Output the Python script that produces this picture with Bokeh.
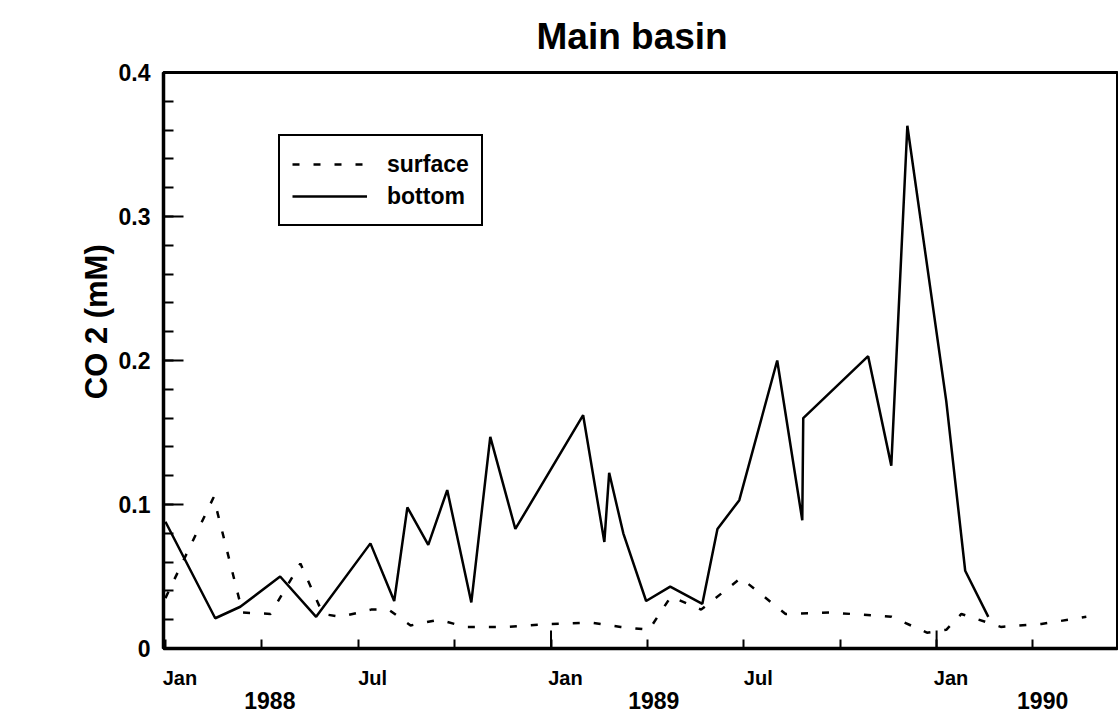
from bokeh.plotting import figure
from bokeh.models import LinearAxis, FixedTicker, Legend, LegendItem, Range1d
from bokeh.embed import file_html
from bokeh.resources import INLINE

FONT = "Liberation Sans"
INK = "black"

# Sampling dates in months elapsed since 1 January 1988, CO2 in mM
surface_month = [0.0, 1.5, 2.4, 3.27, 4.2, 4.9, 5.45, 6.4, 6.95, 7.63, 8.5, 9.35,
                 10.6, 11.9, 13.24, 14.17, 15.05, 15.73, 16.67, 17.91, 19.3, 20.7,
                 22.6, 23.7, 24.3, 24.77, 26.0, 27.26, 28.66]
surface_co2 = [0.035, 0.105, 0.025, 0.024, 0.059, 0.024, 0.022, 0.027, 0.027, 0.016,
               0.020, 0.015, 0.015, 0.017, 0.018, 0.015, 0.013, 0.036, 0.027, 0.049,
               0.024, 0.025, 0.022, 0.011, 0.013, 0.024, 0.015, 0.017, 0.022]

bottom_month = [0.0, 1.55, 2.33, 3.57, 4.69, 6.38, 7.12, 7.53, 8.18, 8.77, 9.52,
                10.11, 10.89, 13.0, 13.66, 13.81, 14.25, 14.96, 15.71, 16.71, 17.18,
                17.86, 19.04, 19.82, 19.85, 21.87, 22.59, 23.09, 24.3, 24.89, 25.61]
bottom_co2 = [0.088, 0.021, 0.029, 0.050, 0.022, 0.073, 0.033, 0.098, 0.072, 0.110,
              0.032, 0.147, 0.083, 0.162, 0.074, 0.122, 0.080, 0.033, 0.043, 0.031,
              0.083, 0.103, 0.200, 0.089, 0.160, 0.203, 0.127, 0.363, 0.172, 0.054,
              0.022]

# Axis annotation
co2_ticks = [0, 0.1, 0.2, 0.3, 0.4]
co2_labels = ["0", "0.1", "0.2", "0.3", "0.4"]
co2_minor = [round(0.02 * k, 2) for k in range(21)]
year_ticks = [0, 12, 24]
quarter_ticks = [3, 6, 9, 15, 18, 21, 27]
month_label_pos = [0.45, 6.45, 12.45, 18.45, 24.45]
month_labels = ["Jan", "Jul", "Jan", "Jul", "Jan"]
year_label_pos = [3.25, 15.2, 27.3]
year_labels = ["1988", "1989", "1990"]

Y_MAX = 0.4
FRAME_H = 576

p = figure(width=1118, height=715, output_backend="svg", toolbar_location=None,
           x_axis_location=None,
           x_range=Range1d(-0.06, 29.63), y_range=Range1d(0, Y_MAX),
           min_border_left=163, min_border_right=1,
           min_border_top=72, min_border_bottom=67)
p.background_fill_color = "white"
p.border_fill_color = "white"
p.outline_line_color = INK
p.outline_line_alpha = 1
p.outline_line_width = 3
p.grid.grid_line_color = None

p.title.text = "Main basin"
p.title.text_color = INK
p.title.text_font = FONT
p.title.text_font_style = "bold"
p.title.text_font_size = "37px"
p.title.align = "left"
p.title.vertical_align = "top"
p.title.offset = 373
p.title.standoff = 28

# y axis
ya = p.yaxis[0]
ya.ticker = FixedTicker(ticks=co2_ticks, minor_ticks=co2_minor)
ya.major_label_overrides = dict(zip(co2_ticks, co2_labels))
ya.axis_line_width = 3.5
ya.axis_line_color = INK
ya.major_tick_in = 20
ya.major_tick_out = 0
ya.minor_tick_in = 10
ya.minor_tick_out = 0
ya.major_tick_line_width = 2
ya.minor_tick_line_width = 2
ya.major_tick_line_color = INK
ya.minor_tick_line_color = INK
ya.major_label_standoff = 13
ya.major_label_text_color = INK
ya.major_label_text_font = FONT
ya.major_label_text_font_style = "bold"
ya.major_label_text_font_size = "23px"
ya.axis_label = "\u00a0" * 9 + "CO 2 (mM)"
ya.axis_label_text_color = INK
ya.axis_label_text_font = FONT
ya.axis_label_text_font_style = "bold"
ya.axis_label_text_font_size = "31px"
ya.axis_label_standoff = 2

# x axis: quarter ticks with month names, then the years underneath
ax_month = LinearAxis(ticker=FixedTicker(ticks=month_label_pos,
                                         minor_ticks=year_ticks + quarter_ticks),
                      major_label_overrides=dict(zip(month_label_pos, month_labels)),
                      axis_line_color=INK, axis_line_width=3.5,
                      major_tick_line_color=None, major_tick_in=0, major_tick_out=0,
                      minor_tick_line_color=INK, minor_tick_line_width=2,
                      minor_tick_in=9, minor_tick_out=0,
                      major_label_standoff=18, major_label_text_color=INK,
                      major_label_text_font=FONT, major_label_text_font_style="bold",
                      major_label_text_font_size="20px")
p.add_layout(ax_month, "below")

ax_year = LinearAxis(ticker=FixedTicker(ticks=year_label_pos, minor_ticks=[]),
                     major_label_overrides=dict(zip(year_label_pos, year_labels)),
                     axis_line_color=None, major_tick_line_color=None,
                     minor_tick_line_color=None, major_tick_in=0, major_tick_out=0,
                     major_label_standoff=0, major_label_text_color=INK,
                     major_label_text_font=FONT, major_label_text_font_style="bold",
                     major_label_text_font_size="23px")
p.add_layout(ax_year, "below")

# longer tick marks at the start of each year
jan_len = 18 * Y_MAX / FRAME_H
jan_x = year_ticks[1:]
p.segment(x0=jan_x, y0=[0] * len(jan_x), x1=jan_x, y1=[jan_len] * len(jan_x),
          line_color=INK, line_width=2)

r_surf = p.line(surface_month, surface_co2, line_color=INK, line_width=2.5,
                line_dash="7 14")
r_bot = p.line(bottom_month, bottom_co2, line_color=INK, line_width=2.5)

legend = Legend(items=[LegendItem(label="surface", renderers=[r_surf]),
                       LegendItem(label="bottom", renderers=[r_bot])],
                location=(115, 422), margin=0, padding=12, spacing=0,
                glyph_width=75, glyph_height=32, label_height=32, label_standoff=20,
                label_text_color=INK, label_text_font=FONT,
                label_text_font_style="bold", label_text_font_size="23px",
                border_line_color=INK, border_line_alpha=1, border_line_width=2.5,
                background_fill_color="white", background_fill_alpha=1)
p.add_layout(legend)

open("out.html", "w").write(file_html(p, INLINE))
